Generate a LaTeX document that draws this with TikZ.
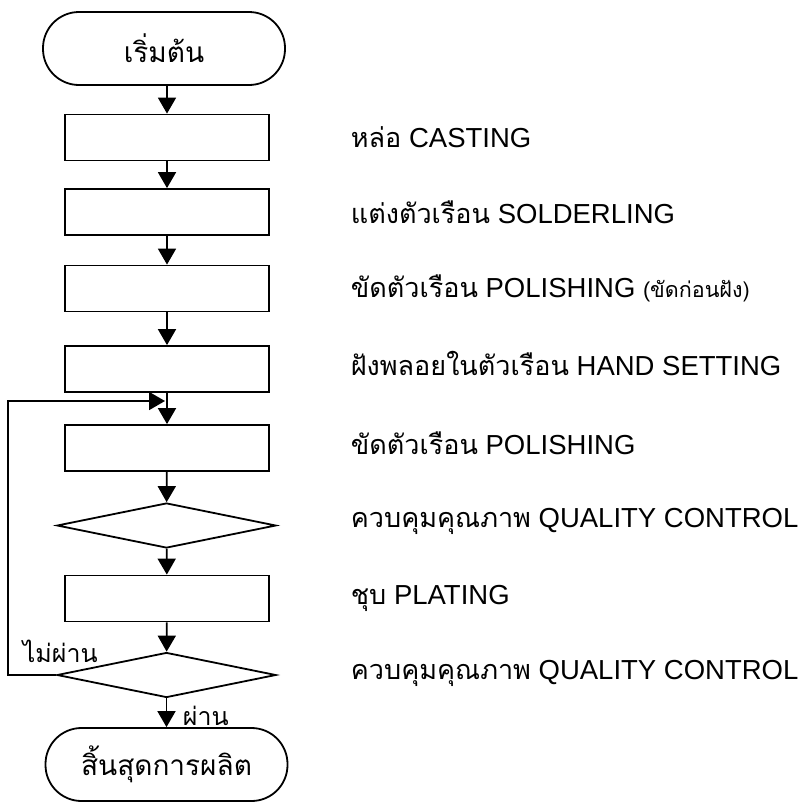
\documentclass[tikz,border=0pt]{standalone}
\usepackage{fontspec}
\setmainfont{Liberation Sans}
\newfontfamily\thai[Script=Thai]{Loma}
\usetikzlibrary{shapes.geometric,arrows.meta}
\newcommand{\thtxt}[1]{{\thai\fontsize{27}{32}\selectfont #1}}
\begin{document}
\begin{tikzpicture}[x=1pt,y=-1pt,
  line width=1.8pt,
  every node/.style={inner sep=0pt},
  term/.style={draw, rounded corners=36pt, minimum width=242pt, minimum height=73pt, font=\thai\fontsize{28}{34}\selectfont},
  proc/.style={draw, minimum width=204pt, minimum height=46pt},
  dec/.style={draw, diamond, minimum width=219pt, minimum height=45pt},
  lbl/.style={anchor=west, font=\fontsize{27.5}{32}\selectfont},
  flow/.style={-{Triangle[length=16pt,width=18pt]}},
]
\useasboundingbox (0,0) rectangle (805,811);
\node[term] (start) at (164,48.5) {เริ่มต้น};
\node[proc] (b1) at (167,137.5) {};
\node[proc] (b2) at (167,212) {};
\node[proc] (b3) at (167,288.5) {};
\node[proc] (b4) at (167,369) {};
\node[proc] (b5) at (167,448) {};
\node[dec] (d1) at (166.5,525.5) {};
\node[proc] (b7) at (167,598.5) {};
\node[dec] (d2) at (166.5,675) {};
\node[term] (end) at (166.5,764.5) {สิ้นสุดการผลิต};

\draw[flow] (start.south -| b1.north) -- (b1.north);
\draw[flow] (b1) -- (b2);
\draw[flow] (b2) -- (b3);
\draw[flow] (b3) -- (b4);
\draw[flow] (b4) -- (b5);
\draw[flow] (b5) -- (d1);
\draw[flow] (d1) -- (b7);
\draw[flow] (b7) -- (d2);
\draw[flow] (d2.south) -- (end.north -| d2.south);
\coordinate (fb) at (165,401);
\draw[flow] (d2.west) -- (8,675) -- (8,401) -- (fb);

\node[font=\thai\fontsize{25}{30}\selectfont, anchor=south west] (no) at (22,664) {ไม่ผ่าน};
\node[font=\thai\fontsize{25}{30}\selectfont, anchor=west] (yes) at (182,716) {ผ่าน};

\node[lbl] (l1) at (350,137) {\thtxt{หล่อ} CASTING};
\node[lbl] (l2) at (350,212) {\thtxt{แต่งตัวเรือน} SOLDERLING};
\node[lbl] (l3) at (350,288) {\thtxt{ขัดตัวเรือน} POLISHING {\fontsize{21.5}{24}\selectfont(\thai ขัดก่อนฝัง)}};
\node[lbl] (l4) at (350,364) {\thtxt{ฝังพลอยในตัวเรือน} HAND SETTING};
\node[lbl] (l5) at (350,443) {\thtxt{ขัดตัวเรือน} POLISHING};
\node[lbl] (l6) at (350,521) {\thtxt{ควบคุมคุณภาพ} QUALITY CONTROL};
\node[lbl] (l7) at (350,598) {\thtxt{ชุบ} PLATING};
\node[lbl] (l8) at (350,673) {\thtxt{ควบคุมคุณภาพ} QUALITY CONTROL};
\end{tikzpicture}
\end{document}
